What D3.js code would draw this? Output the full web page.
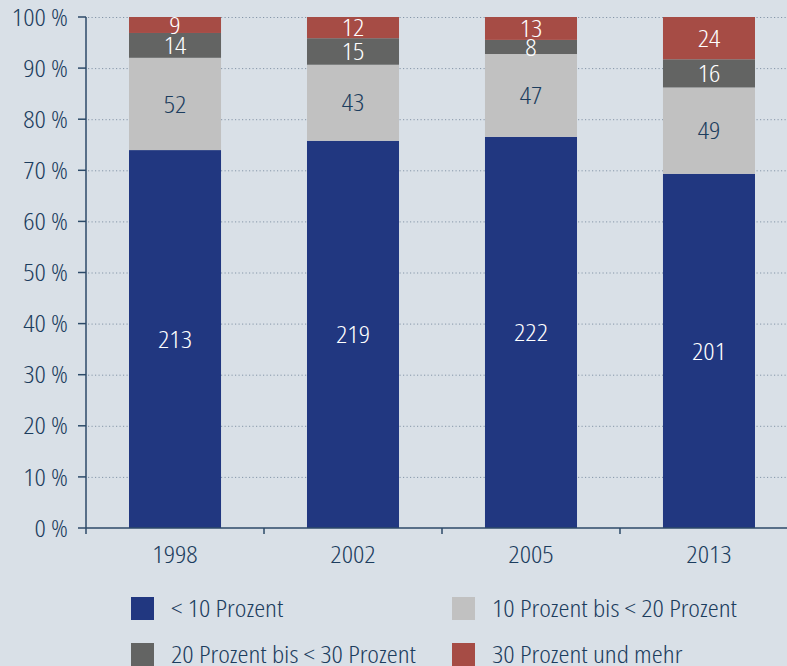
<!DOCTYPE html>
<html>
<head>
<meta charset="utf-8">
<script src="https://cdn.jsdelivr.net/npm/d3@7"></script>
<style>
  html, body { margin: 0; padding: 0; background: #d9e0e7; }
  svg { display: block; }
  text { font-family: "Open Sans", "Liberation Sans", sans-serif; font-weight: 300; font-stretch: condensed; }
</style>
</head>
<body>
<svg id="chart" width="787" height="666"></svg>
<script>
// ---- Data ----
const years = ["1998", "2002", "2005", "2013"];
const seriesNames = ["< 10 Prozent", "10 Prozent bis < 20 Prozent", "20 Prozent bis < 30 Prozent", "30 Prozent und mehr"];
const seriesKeys = ["lt10", "p10to20", "p20to30", "ge30"];
const lt10 = [213, 219, 222, 201];
const p10to20 = [52, 43, 47, 49];
const p20to30 = [14, 15, 8, 16];
const ge30 = [9, 12, 13, 24];
const yTicks = [0, 0.1, 0.2, 0.3, 0.4, 0.5, 0.6, 0.7, 0.8, 0.9, 1.0];

const colors = { lt10: "#213780", p10to20: "#c1c1c1", p20to30: "#636463", ge30: "#a64c45" };
const labelColors = { lt10: "#ffffff", p10to20: "#1c3d5e", p20to30: "#ffffff", ge30: "#ffffff" };
const textColor = "#1c3d5e";
const axisColor = "#2c4a68";
const FS = 24;      // font size

function draw() {
const svg = d3.select("#chart");
svg.selectAll("*").remove();
const W = 787, H = 666;
const axisX = 86;

// measure to match the reference's condensed face width
const probe = svg.append("text").attr("font-size", FS).text(seriesNames[1]);
const natural = probe.node().getComputedTextLength();
probe.remove();
const SX = Math.max(0.7, Math.min(1.25, 245 / natural));

const table = years.map((y, i) => ({ year: y, lt10: lt10[i], p10to20: p10to20[i], p20to30: p20to30[i], ge30: ge30[i] }));

const x = d3.scaleBand().domain(years).range([axisX, 798]).paddingInner(0.483).paddingOuter(0.2416);
const y = d3.scaleLinear().domain([0, 1]).range([528, 17]);

function place(sel, fx, fy) {
  sel.attr("transform", (d, i) => `translate(${fx(d, i)},${fy(d, i)}) scale(${SX},1)`)
     .attr("font-size", FS);
}

// gridlines
svg.append("g").selectAll("line").data(yTicks.filter(d => d > 0)).join("line")
  .attr("x1", axisX + 2).attr("x2", W)
  .attr("y1", d => y(d) + 0.5).attr("y2", d => y(d) + 0.5)
  .attr("stroke", "#8596a8").attr("stroke-width", 1)
  .attr("stroke-dasharray", "1.2,2.3");

// stacked bars
const stack = d3.stack().keys(seriesKeys).offset(d3.stackOffsetExpand);
const stacked = stack(table);

const layers = svg.append("g").selectAll("g").data(stacked).join("g")
  .attr("fill", d => colors[d.key]);
layers.selectAll("rect").data(d => d).join("rect")
  .attr("x", d => x(d.data.year))
  .attr("width", x.bandwidth())
  .attr("y", d => y(d[1]))
  .attr("height", d => y(d[0]) - y(d[1]));

// labels
const labels = svg.append("g").selectAll("g").data(stacked).join("g")
  .attr("fill", d => labelColors[d.key]);
labels.selectAll("text").data(d => d.map(v => ({ v, key: d.key }))).join("text")
  .call(place, d => x(d.v.data.year) + x.bandwidth() / 2, d => (y(d.v[0]) + y(d.v[1])) / 2 + 0.36 * FS)
  .attr("text-anchor", "middle")
  .text(d => d.v.data[d.key]);

// y axis
const gy = svg.append("g");
gy.selectAll("line.tick").data(yTicks).join("line").attr("class", "tick")
  .attr("x1", axisX - 8).attr("x2", axisX)
  .attr("y1", d => y(d)).attr("y2", d => y(d))
  .attr("stroke", axisColor).attr("stroke-width", 1.5);
gy.selectAll("text").data(yTicks).join("text")
  .call(place, d => axisX - 18, d => y(d) + 0.36 * FS)
  .attr("text-anchor", "end")
  .attr("fill", textColor)
  .text(d => Math.round(d * 100) + " %");
gy.append("line").attr("x1", axisX).attr("x2", axisX).attr("y1", y(1)).attr("y2", y(0) + 6)
  .attr("stroke", axisColor).attr("stroke-width", 1.5);

// x axis
const gx = svg.append("g");
gx.append("line").attr("x1", axisX).attr("x2", W).attr("y1", y(0)).attr("y2", y(0))
  .attr("stroke", axisColor).attr("stroke-width", 1.5);
const step = x.step();
gx.selectAll("line.sep").data(years.slice(1)).join("line").attr("class", "sep")
  .attr("x1", d => x(d) - x.paddingInner() * step / 2)
  .attr("x2", d => x(d) - x.paddingInner() * step / 2)
  .attr("y1", y(0)).attr("y2", y(0) + 6)
  .attr("stroke", axisColor).attr("stroke-width", 1.5);
gx.selectAll("text").data(years).join("text")
  .call(place, d => x(d) + x.bandwidth() / 2, d => 563)
  .attr("text-anchor", "middle")
  .attr("fill", textColor)
  .text(d => d);

// legend
const legendPos = [[131, 597], [452, 597], [131, 643], [452, 643]];
const lg = svg.append("g").selectAll("g").data(seriesKeys).join("g")
  .attr("transform", (d, i) => `translate(${legendPos[i][0]},${legendPos[i][1]})`);
lg.append("rect").attr("width", 23).attr("height", 23).attr("fill", d => colors[d]);
lg.append("text")
  .call(place, d => 40, d => 20)
  .attr("fill", textColor)
  .text((d, i) => seriesNames[i]);
}

draw();
if (document.fonts && document.fonts.ready) document.fonts.ready.then(draw);
</script>
</body>
</html>
